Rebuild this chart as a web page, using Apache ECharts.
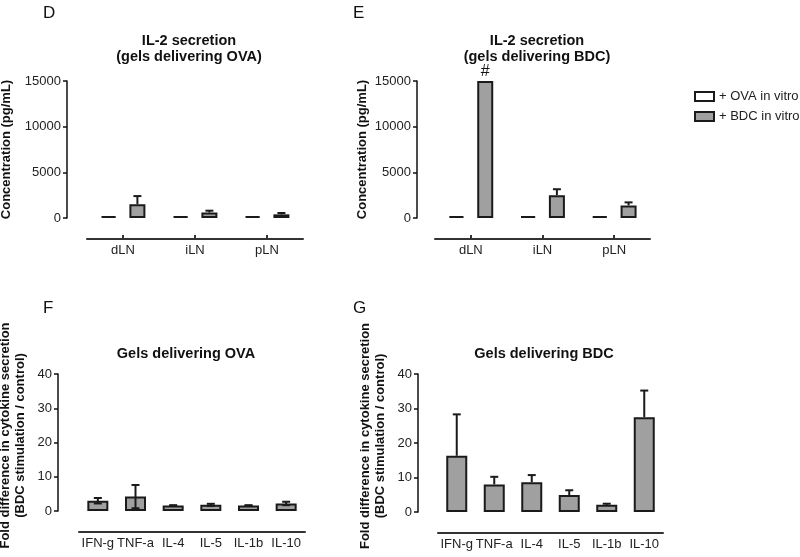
<!DOCTYPE html>
<html>
<head>
<meta charset="utf-8">
<script src="https://cdn.jsdelivr.net/npm/echarts@6/dist/echarts.min.js"></script>
<style>
  html, body { margin: 0; padding: 0; background: #fff; }
  #main { width: 800px; height: 557px; }
</style>
</head>
<body>
<div id="main"></div>
<script>
// 数据
var nodes = ['dLN', 'iLN', 'pLN'];
var cytokines = ['IFN-g', 'TNF-a', 'IL-4', 'IL-5', 'IL-1b', 'IL-10'];

// D: gels delivering OVA
var ovaD = [200, 200, 200];
var bdcD = [1500, 600, 400];
var bdcDErr = [900, 200, 150];

// E: gels delivering BDC
var ovaE = [200, 200, 200];
var bdcE = [15000, 2500, 1380];
var bdcEErr = [0, 650, 330];
var bdcEMarks = ['#', '', ''];

// F / G: fold difference
var foldF = [3.0, 4.2, 1.6, 1.8, 1.6, 2.2];
var foldFErr = [0.8, 3.4, 0.1, 0.3, 0.1, 0.5];
var foldG = [16.3, 8.0, 8.6, 4.9, 2.1, 27.5];
var foldGErr = [12.0, 2.2, 2.1, 1.4, 0.3, 7.7];

var font = 'Liberation Sans, Arial, sans-serif';
var gray = '#a0a0a0';
var ink = '#1a1a1a';

// 两组柱子的尺寸（误差线偏移用）
var pairBarW = 16;
var pairGap = 0.8;
var pairOffset = (pairBarW + pairBarW * pairGap) / 2;

function errData(mean, err) {
  return mean.map(function (m, i) { return [i, m, err[i]]; });
}

// 误差线
function errorRender(offset, both) {
  return function (params, api) {
    var err = api.value(2);
    if (!(err > 0)) return { type: 'group', children: [] };
    var i = api.value(0), m = api.value(1);
    var top = api.coord([i, m + err]);
    var mid = api.coord([i, m]);
    var bot = api.coord([i, m - err]);
    var cx = top[0] + offset;
    var y0 = both ? bot[1] : mid[1];
    var st = { stroke: ink, lineWidth: 2 };
    var kids = [
      { type: 'line', shape: { x1: cx, y1: top[1], x2: cx, y2: y0 }, style: st },
      { type: 'line', shape: { x1: cx - 4, y1: top[1], x2: cx + 4, y2: top[1] }, style: st }
    ];
    if (both) {
      kids.push({ type: 'line', shape: { x1: cx - 4, y1: bot[1], x2: cx + 4, y2: bot[1] }, style: st });
    }
    return { type: 'group', children: kids };
  };
}

function xAx(idx, cats, ticks) {
  return {
    type: 'category', gridIndex: idx, data: cats, offset: 21,
    axisLine: { onZero: false, lineStyle: { color: '#333', width: 2 } },
    axisTick: { show: ticks, inside: true, alignWithLabel: true, length: 4, lineStyle: { color: '#333', width: 2 } },
    axisLabel: { interval: 0, color: '#222', fontSize: 13, fontFamily: font, margin: 5 },
    splitLine: { show: false }
  };
}

function yAx(idx, max, interval, offset, name, gap, shift) {
  return {
    type: 'value', gridIndex: idx, min: 0, max: max, interval: interval, offset: offset,
    name: name, nameLocation: 'middle', nameGap: gap, nameRotate: 90,
    nameTextStyle: { color: '#111', fontSize: 13, fontWeight: 'bold', fontFamily: font, lineHeight: 15, align: 'center',
      padding: [0, 0, 0, shift] },
    axisLine: { show: true, lineStyle: { color: '#111', width: 1.5 } },
    axisTick: { show: true, length: 4, lineStyle: { color: '#111', width: 1.5 } },
    axisLabel: { color: '#222', fontSize: 13, fontFamily: font, margin: 6,
      formatter: function (v) { return String(v); } },
    splitLine: { show: false }
  };
}

var barStyle = function (fill) {
  return { color: fill, borderColor: ink, borderWidth: 2 };
};

var chart = echarts.init(document.getElementById('main'), null, { renderer: 'canvas' });

var titleStyle = { color: '#111', fontSize: 14.5, fontWeight: 'bold', fontFamily: font, lineHeight: 16 };
var letterStyle = { color: '#111', fontSize: 17, fontWeight: 'normal', fontFamily: font };

function gridAt(left, top, width, height) {
  return { left: left, top: top, width: width, height: height, containLabel: false, outerBoundsMode: 'none' };
}

var option = {
  animation: false,
  backgroundColor: '#fff',
  title: [
    { text: 'D', left: 38, top: 0, textStyle: letterStyle },
    { text: 'E', left: 348, top: 0, textStyle: letterStyle },
    { text: 'F', left: 38, top: 295, textStyle: letterStyle },
    { text: 'G', left: 348, top: 295, textStyle: letterStyle },
    { text: 'IL-2 secretion\n(gels delivering OVA)', left: 184, top: 28, textAlign: 'center', textStyle: titleStyle },
    { text: 'IL-2 secretion\n(gels delivering BDC)', left: 532, top: 28, textAlign: 'center', textStyle: titleStyle },
    { text: 'Gels delivering OVA', left: 181, top: 341, textAlign: 'center', textStyle: titleStyle },
    { text: 'Gels delivering BDC', left: 539, top: 341, textAlign: 'center', textStyle: titleStyle }
  ],
  legend: {
    data: ['+ OVA in vitro', '+ BDC in vitro'],
    orient: 'vertical', left: 689, top: 85,
    icon: 'rect', itemWidth: 19, itemHeight: 9, itemGap: 7,
    textStyle: { color: '#222', fontSize: 13, fontFamily: font }
  },
  grid: [
    gridAt(87, 81, 216, 137),
    gridAt(435, 81, 215, 137),
    gridAt(79, 374, 226, 137),
    gridAt(438, 374, 225, 138)
  ],
  xAxis: [
    xAx(0, nodes, true),
    xAx(1, nodes, true),
    xAx(2, cytokines, false),
    xAx(3, cytokines, false)
  ],
  yAxis: [
    yAx(0, 15000, 5000, 20, 'Concentration (pg/mL)', 53, 0),
    yAx(1, 15000, 5000, 18, 'Concentration (pg/mL)', 47, 0),
    yAx(2, 40, 10, 21, 'Fold difference in cytokine secretion\n(BDC stimulation / control)', 30, 14),
    yAx(3, 40, 10, 20, 'Fold difference in cytokine secretion\n(BDC stimulation / control)', 30, 14)
  ],
  series: [
    { name: '+ OVA in vitro', type: 'bar', xAxisIndex: 0, yAxisIndex: 0, data: ovaD,
      barWidth: pairBarW, barGap: (pairGap * 100) + '%', itemStyle: barStyle('#fff') },
    { name: '+ BDC in vitro', type: 'bar', xAxisIndex: 0, yAxisIndex: 0, data: bdcD,
      barWidth: pairBarW, barGap: (pairGap * 100) + '%', itemStyle: barStyle(gray) },
    { type: 'custom', xAxisIndex: 0, yAxisIndex: 0, z: 3, data: errData(bdcD, bdcDErr),
      encode: { x: 0, y: 1 }, renderItem: errorRender(pairOffset, false) },

    { name: '+ OVA in vitro', type: 'bar', xAxisIndex: 1, yAxisIndex: 1, data: ovaE,
      barWidth: pairBarW, barGap: (pairGap * 100) + '%', itemStyle: barStyle('#fff') },
    { name: '+ BDC in vitro', type: 'bar', xAxisIndex: 1, yAxisIndex: 1,
      data: bdcE.map(function (v, i) {
        return bdcEMarks[i] ? { value: v, label: { show: true, position: 'top', distance: 1, formatter: bdcEMarks[i],
          color: '#111', fontSize: 16, fontFamily: font } } : v;
      }),
      barWidth: pairBarW, barGap: (pairGap * 100) + '%', itemStyle: barStyle(gray) },
    { type: 'custom', xAxisIndex: 1, yAxisIndex: 1, z: 3, data: errData(bdcE, bdcEErr),
      encode: { x: 0, y: 1 }, renderItem: errorRender(pairOffset, false) },

    { name: 'F', type: 'bar', xAxisIndex: 2, yAxisIndex: 2, data: foldF, barWidth: 21, itemStyle: barStyle(gray) },
    { type: 'custom', xAxisIndex: 2, yAxisIndex: 2, z: 3, data: errData(foldF, foldFErr),
      encode: { x: 0, y: 1 }, renderItem: errorRender(0, true) },

    { name: 'G', type: 'bar', xAxisIndex: 3, yAxisIndex: 3, data: foldG, barWidth: 21, itemStyle: barStyle(gray) },
    { type: 'custom', xAxisIndex: 3, yAxisIndex: 3, z: 3, data: errData(foldG, foldGErr),
      encode: { x: 0, y: 1 }, renderItem: errorRender(0, false) }
  ]
};

chart.setOption(option);
</script>
</body>
</html>
